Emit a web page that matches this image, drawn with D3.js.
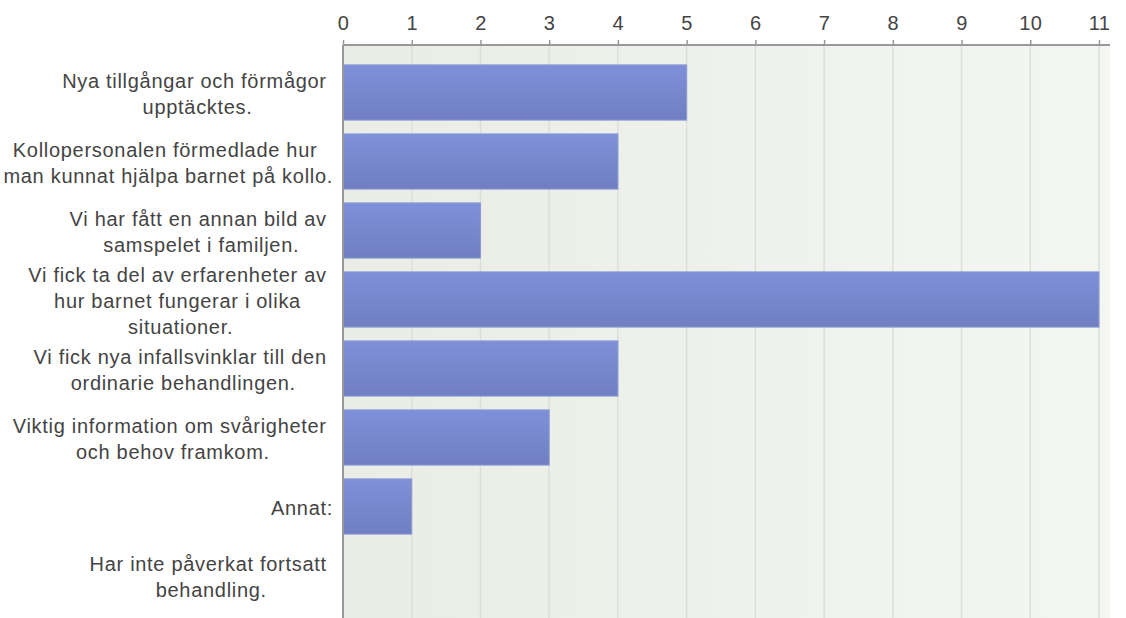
<!DOCTYPE html>
<html>
<head>
<meta charset="utf-8">
<script src="https://cdn.jsdelivr.net/npm/d3@7"></script>
<style>
  html, body { margin: 0; padding: 0; background: #fff; }
  svg { display: block; font-family: Arial, "Liberation Sans", sans-serif; }
</style>
</head>
<body>
<svg id="chart" width="1126" height="618"></svg>
<script>
const categories = [
  ["Nya tillgångar och förmågor", "upptäcktes."],
  ["Kollopersonalen förmedlade hur", "man kunnat hjälpa barnet på kollo."],
  ["Vi har fått en annan bild av", "samspelet i familjen."],
  ["Vi fick ta del av erfarenheter av", "hur barnet fungerar i olika", "situationer."],
  ["Vi fick nya infallsvinklar till den", "ordinarie behandlingen."],
  ["Viktig information om svårigheter", "och behov framkom."],
  ["Annat:"],
  ["Har inte påverkat fortsatt", "behandling."]
];
const values = [5, 4, 2, 11, 4, 3, 1, 0];
const ticks = [0, 1, 2, 3, 4, 5, 6, 7, 8, 9, 10, 11];

const W = 1126, H = 618;
const plotLeft = 343, plotRight = 1110, plotTop = 45;
const svg = d3.select("#chart");

const x = d3.scaleLinear().domain([0, 11]).range([plotLeft, 1099]);
const y = d3.scaleBand().domain(d3.range(categories.length)).range([58, 610]).paddingInner(0.2).paddingOuter(0.1);

const defs = svg.append("defs");
const bg = defs.append("linearGradient").attr("id", "bg").attr("x1", 0).attr("x2", 1).attr("y1", 0).attr("y2", 0);
bg.append("stop").attr("offset", 0).attr("stop-color", "#e9ede5");
bg.append("stop").attr("offset", 1).attr("stop-color", "#f4f6f2");
const bar = defs.append("linearGradient").attr("id", "bar").attr("x1", 0).attr("x2", 0).attr("y1", 0).attr("y2", 1);
bar.append("stop").attr("offset", 0).attr("stop-color", "#8090d8");
bar.append("stop").attr("offset", 1).attr("stop-color", "#6f7fc1");

// plot background
svg.append("rect")
  .attr("x", plotLeft).attr("y", plotTop)
  .attr("width", plotRight - plotLeft).attr("height", H - plotTop)
  .attr("fill", "url(#bg)");

// grid lines
svg.append("g").selectAll("line").data(ticks.slice(1)).enter().append("line")
  .attr("x1", d => x(d)).attr("x2", d => x(d))
  .attr("y1", plotTop).attr("y2", H)
  .attr("stroke", "#dcdfd9").attr("stroke-width", 1.5);

// bars
svg.append("g").selectAll("rect").data(values).enter().append("rect")
  .attr("x", x(0))
  .attr("y", (d, i) => y(i))
  .attr("width", d => x(d) - x(0))
  .attr("height", y.bandwidth())
  .attr("fill", "url(#bar)")
  .attr("stroke", "#8a98d6").attr("stroke-width", d => d > 0 ? 1 : 0);

// top axis
const axis = svg.append("g").attr("transform", `translate(0, ${plotTop})`)
  .call(d3.axisTop(x).tickValues(ticks).tickSize(5).tickPadding(10).tickSizeOuter(0));
axis.select(".domain").attr("stroke", "#999").attr("stroke-width", 2)
  .attr("d", `M${plotLeft},0H${plotRight}`);
axis.selectAll(".tick line").attr("stroke", "#999").attr("stroke-width", 1.5);
axis.selectAll(".tick text").attr("fill", "#444").attr("font-size", "20px")
  .attr("letter-spacing", "0.5px")
  .attr("font-family", "Arial, 'Liberation Sans', sans-serif");

// left axis line
svg.append("line")
  .attr("x1", plotLeft).attr("x2", plotLeft).attr("y1", plotTop).attr("y2", H)
  .attr("stroke", "#999").attr("stroke-width", 2);

// category labels: block right-aligned, lines (with wrap space kept) centered
const lineH = 26;
const labelRight = 333;
categories.forEach((lines, i) => {
  const cy = y(i) + y.bandwidth() / 2;
  const t = svg.append("text").attr("fill", "#444").attr("font-size", "20px")
    .attr("letter-spacing", "0.7px")
    .style("white-space", "pre")
    .attr("text-anchor", "middle");
  const spans = lines.map((ln, j) => t.append("tspan")
    .attr("y", cy + 8 + (j - (lines.length - 1) / 2) * lineH)
    .text(j < lines.length - 1 ? ln + " " : ln));
  const maxW = d3.max(spans, s => s.node().getComputedTextLength());
  spans.forEach(s => s.attr("x", labelRight - maxW / 2));
});
</script>
</body>
</html>
